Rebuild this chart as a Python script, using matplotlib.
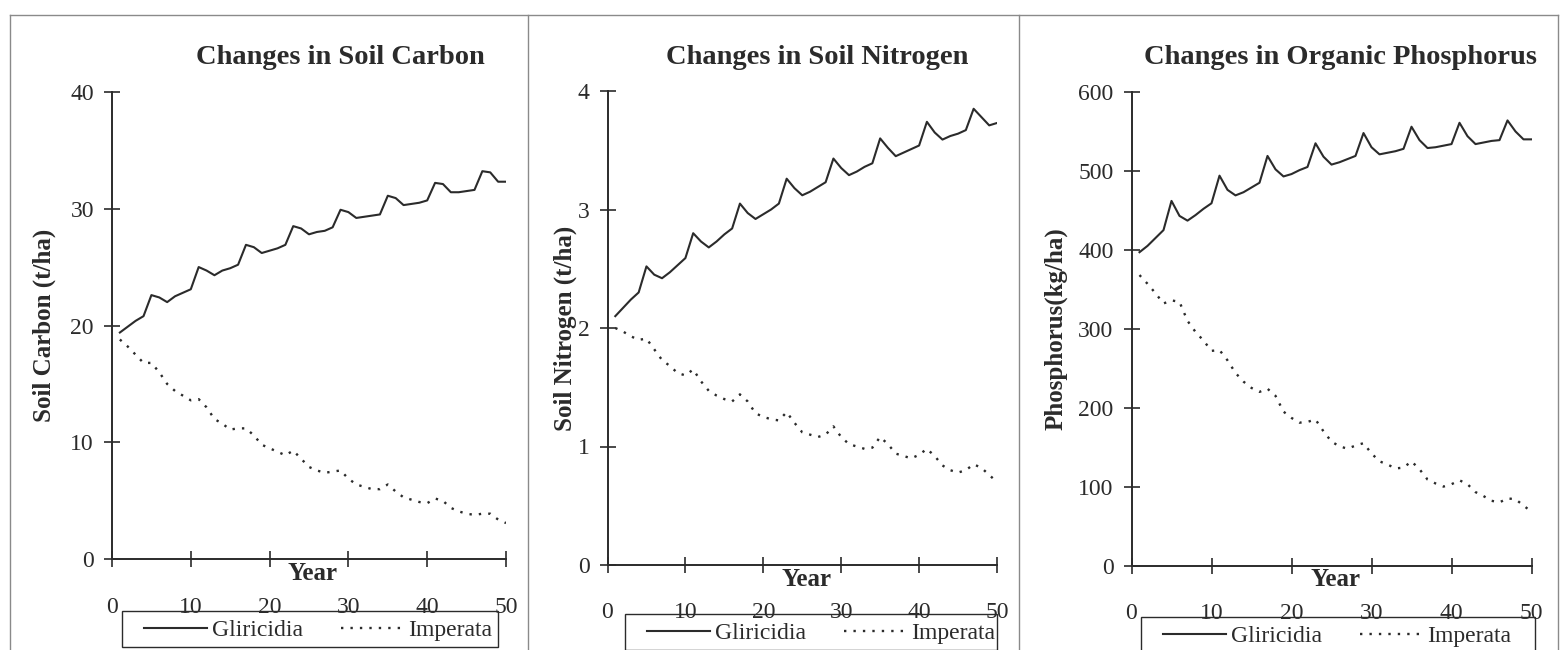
import matplotlib.pyplot as plt
from matplotlib.lines import Line2D
from matplotlib.patches import Rectangle

plt.rcParams['font.family'] = ['Liberation Serif', 'DejaVu Serif']

INK = '#2b2b2b'

years = list(range(1, 51))

carbon_gliricidia = [
    19.4, 19.9, 20.4, 20.8, 22.6, 22.4, 22.0, 22.5, 22.8, 23.1,
    25.0, 24.7, 24.3, 24.7, 24.9, 25.2, 26.9, 26.7, 26.2, 26.4,
    26.6, 26.9, 28.5, 28.3, 27.8, 28.0, 28.1, 28.4, 29.9, 29.7,
    29.2, 29.3, 29.4, 29.5, 31.1, 30.9, 30.3, 30.4, 30.5, 30.7,
    32.2, 32.1, 31.4, 31.4, 31.5, 31.6, 33.2, 33.1, 32.3, 32.3,
]
carbon_imperata = [
    18.8, 18.2, 17.5, 16.8, 16.8, 16.0, 15.0, 14.4, 14.0, 13.6,
    13.7, 13.0, 12.0, 11.6, 11.1, 11.2, 11.2, 10.6, 9.8, 9.5,
    9.2, 8.9, 9.3, 8.6, 7.9, 7.6, 7.4, 7.5, 7.6, 6.9,
    6.4, 6.2, 6.0, 6.0, 6.4, 5.8, 5.3, 5.1, 4.9, 4.8,
    5.2, 5.0, 4.4, 4.1, 3.9, 3.8, 3.9, 3.9, 3.4, 3.1,
]

nitrogen_gliricidia = [
    2.10, 2.17, 2.24, 2.30, 2.52, 2.45, 2.42, 2.47, 2.53, 2.59,
    2.80, 2.73, 2.68, 2.73, 2.79, 2.84, 3.05, 2.97, 2.92, 2.96,
    3.00, 3.05, 3.26, 3.18, 3.12, 3.15, 3.19, 3.23, 3.43, 3.35,
    3.29, 3.32, 3.36, 3.39, 3.60, 3.52, 3.45, 3.48, 3.51, 3.54,
    3.74, 3.65, 3.59, 3.62, 3.64, 3.67, 3.85, 3.78, 3.71, 3.73,
]
nitrogen_imperata = [
    2.00, 1.97, 1.93, 1.90, 1.91, 1.82, 1.73, 1.68, 1.62, 1.60,
    1.65, 1.55, 1.47, 1.43, 1.40, 1.38, 1.44, 1.38, 1.28, 1.25,
    1.23, 1.22, 1.29, 1.20, 1.12, 1.10, 1.08, 1.10, 1.17, 1.08,
    1.02, 1.00, 0.98, 0.99, 1.08, 1.02, 0.94, 0.92, 0.90, 0.93,
    0.98, 0.92, 0.84, 0.80, 0.78, 0.80, 0.85, 0.82, 0.76, 0.70,
]

phosphorus_gliricidia = [
    397, 405, 415, 425, 462, 443, 437, 444, 452, 459,
    494, 476, 469, 473, 479, 485, 519, 502, 493, 496,
    501, 505, 535, 518, 508, 511, 515, 519, 548, 530,
    521, 523, 525, 528, 556, 539, 529, 530, 532, 534,
    561, 544, 534, 536, 538, 539, 564, 550, 540, 540,
]
phosphorus_imperata = [
    368, 357, 345, 332, 336, 334, 310, 296, 285, 272,
    273, 260, 244, 233, 225, 220, 224, 215, 195, 187,
    181, 182, 185, 170, 157, 151, 148, 152, 155, 142,
    132, 128, 123, 124, 132, 122, 109, 104, 100, 103,
    108, 103, 93, 88, 82, 80, 85, 84, 76, 68,
]

W, H = 1564, 650
fig = plt.figure(figsize=(W / 100, H / 100), dpi=100)


def px_rect(left, right, top, bottom):
    return [left / W, 1 - bottom / H, (right - left) / W, (bottom - top) / H]


# outer frame and panel dividers
frame_kw = dict(color='#8a8a8a', lw=1.0, transform=fig.transFigure)
for xs, ys in [([10, 1558], [15, 15]), ([10, 10], [15, 650]), ([1558, 1558], [15, 650]),
               ([528, 528], [15, 650]), ([1019, 1019], [15, 650])]:
    fig.add_artist(Line2D([x / W for x in xs], [1 - y / H for y in ys], **frame_kw))

panels = [
    dict(rect=px_rect(112, 506, 91.7, 559.3), title='Changes in Soil Carbon', title_x=340,
         ylabel='Soil Carbon (t/ha)', ylabel_x=-0.173, top=40, step=10,
         gliricidia=carbon_gliricidia, imperata=carbon_imperata, legend=(122, 498, 611)),
    dict(rect=px_rect(607.5, 997, 91, 565), title='Changes in Soil Nitrogen', title_x=817,
         ylabel='Soil Nitrogen (t/ha)', ylabel_x=-0.109, top=4, step=1,
         gliricidia=nitrogen_gliricidia, imperata=nitrogen_imperata, legend=(625, 997, 614)),
    dict(rect=px_rect(1131.5, 1531.5, 92, 565.5), title='Changes in Organic Phosphorus', title_x=1341,
         ylabel='Phosphorus(kg/ha)', ylabel_x=-0.189, top=600, step=100,
         gliricidia=phosphorus_gliricidia, imperata=phosphorus_imperata, legend=(1141, 1535, 617)),
]

for p in panels:
    ax = fig.add_axes(p['rect'])
    ax.plot(years, p['gliricidia'], color=INK, lw=1.5, label='Gliricidia')
    ax.plot(years, p['imperata'], color=INK, lw=1.7, linestyle=(0, (1, 3.0)), label='Imperata')

    ax.set_xlim(0, 50)
    ax.set_ylim(0, p['top'])
    ax.set_xticks(range(0, 51, 10))
    ax.set_yticks([p['step'] * k for k in range(int(p['top'] / p['step']) + 1)])

    for side in ('top', 'right'):
        ax.spines[side].set_visible(False)
    for side in ('left', 'bottom'):
        ax.spines[side].set_color(INK)
        ax.spines[side].set_linewidth(1.4)
    ax.tick_params(axis='both', direction='inout', color=INK, width=1.2,
                   labelsize=17, labelcolor=INK)
    ax.tick_params(axis='x', length=12, pad=21)
    ax.tick_params(axis='y', length=12, pad=7)

    ax.text(p['ylabel_x'], 0.5, p['ylabel'], rotation=90, ha='center', va='center',
            fontsize=18, fontweight='bold', color=INK, transform=ax.transAxes)
    ax.annotate('Year', xy=(0.51, 0), xycoords='axes fraction', xytext=(0, -14),
                textcoords='offset pixels', ha='center', va='center',
                fontsize=18, fontweight='bold', color=INK)
    fig.text(p['title_x'] / W, 1 - 58 / H, p['title'], ha='center', va='center',
             fontsize=20.5, fontweight='bold', color=INK)

    # legend box, cut by the lower page edge
    left, right, top = p['legend']
    fig.add_artist(Rectangle((left / W, 1 - (top + 36) / H), (right - left) / W, 36 / H,
                             transform=fig.transFigure, fill=False, edgecolor=INK, lw=1.0))
    leg = ax.legend(loc='center left', ncol=2, frameon=False,
                    bbox_to_anchor=((left + 22) / W, 1 - (top + 19) / H),
                    bbox_transform=fig.transFigure, borderaxespad=0, borderpad=0,
                    fontsize=17, handlelength=2.65, handletextpad=0.22, columnspacing=1.6)
    for t in leg.get_texts():
        t.set_color(INK)

fig.savefig('out.png', dpi=100)
